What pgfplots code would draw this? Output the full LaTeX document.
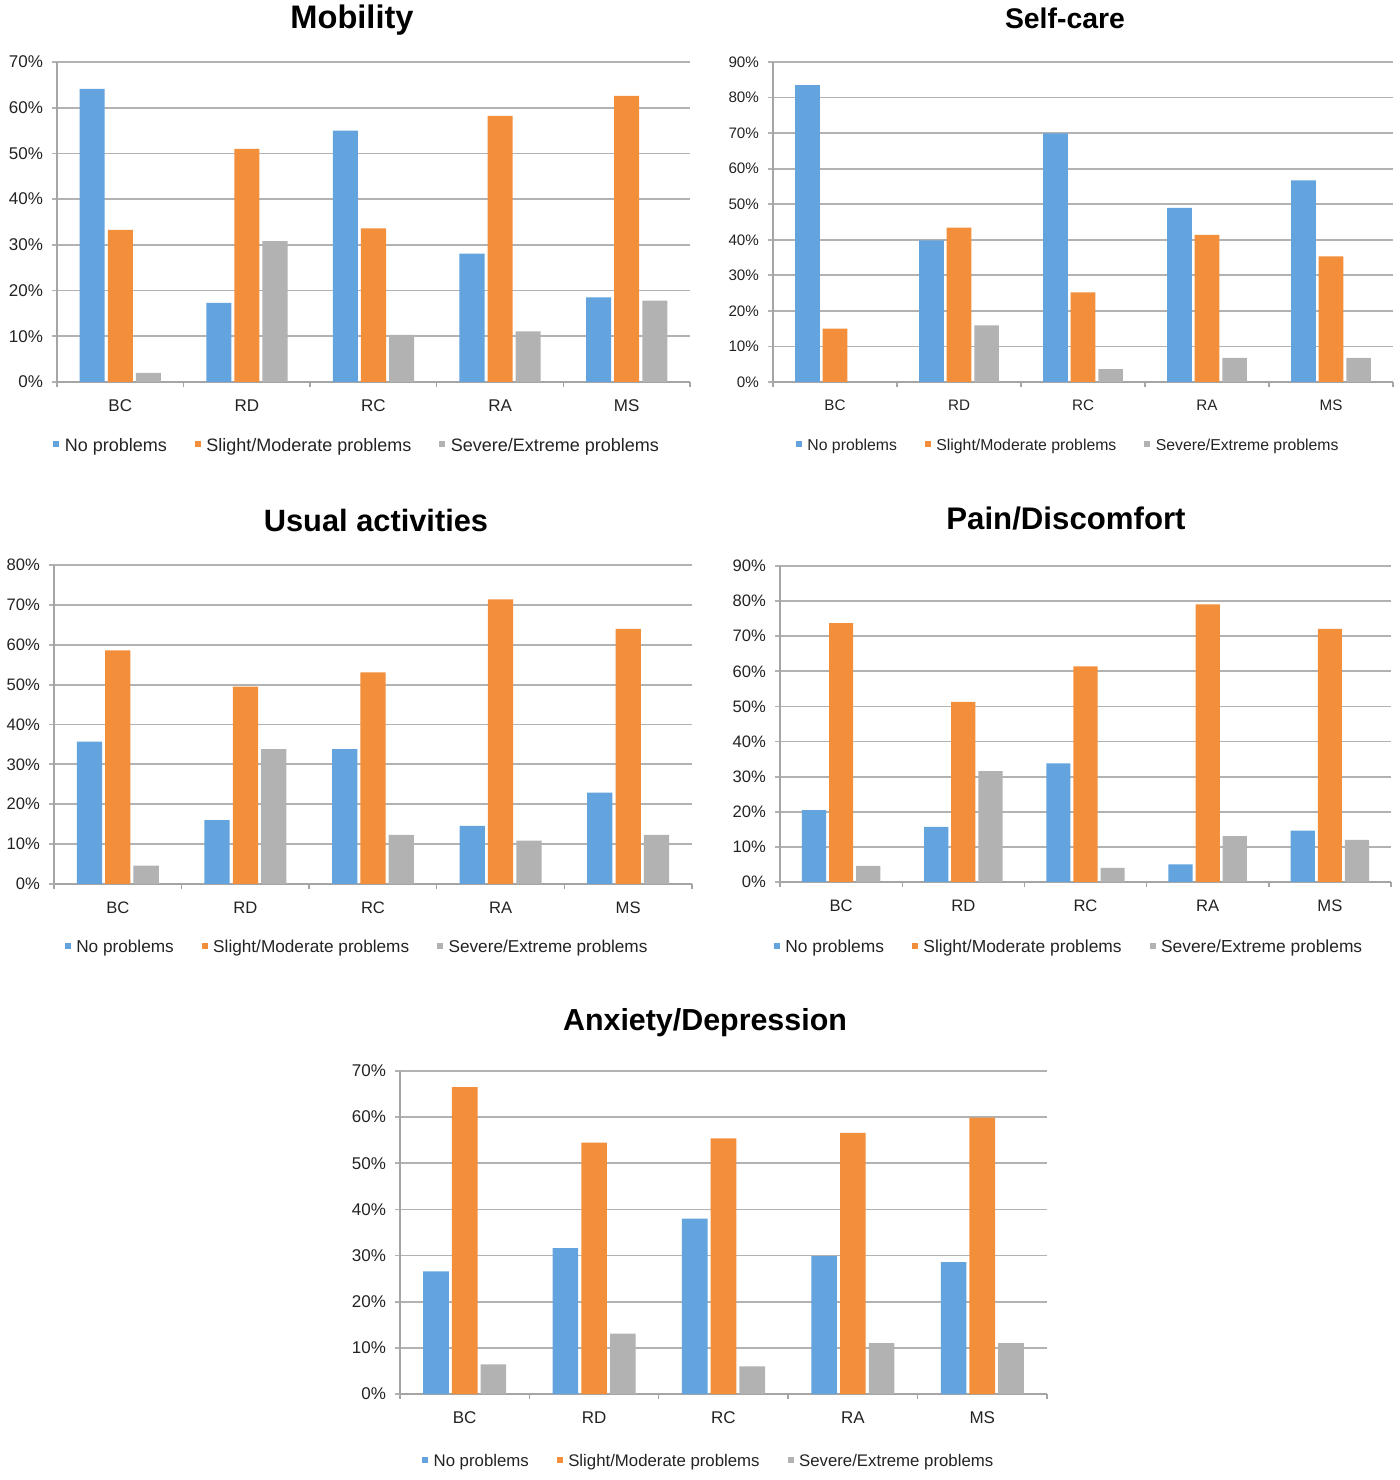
\documentclass[border=0pt]{standalone}
\usepackage{pgfplots}
\pgfplotsset{compat=1.18}
\usepackage{fontspec}
\setmainfont{Liberation Sans}
\definecolor{cblue}{RGB}{99,164,222}
\definecolor{corange}{RGB}{243,143,58}
\definecolor{cgray}{RGB}{178,178,178}
\definecolor{gridgray}{RGB}{178,178,178}
\definecolor{axgray}{RGB}{165,165,165}
\definecolor{txt}{RGB}{35,35,35}
\pgfplotsset{
  excel/.style={
    scale only axis, anchor=south west,
    ybar, bar width=0.198,
    xmin=-0.5, xmax=4.5, ymin=0,
    xtick={0,1,2,3,4}, xticklabels={BC,RD,RC,RA,MS},
    minor xtick={-0.5,0.5,1.5,2.5,3.5,4.5},
    major x tick style={draw=none},
    minor x tick style={draw=axgray, line width=0.7pt},
    minor tick length=2.5pt, major tick length=2.5pt,
    tick align=outside,
    axis lines*=left,
    axis line style={draw=axgray, line width=0.7pt},
    ytick distance=10,
    yticklabel={\pgfmathprintnumber{\tick}\%},
    ymajorgrids, grid style={draw=gridgray, line width=0.9pt},
    y tick style={draw=gridgray, line width=0.9pt},
    /pgf/number format/assume math mode=true,
    tick label style={text=txt},
    xticklabel style={yshift=-3pt},
    yticklabel style={xshift=-1pt},
    legend columns=3,
    legend style={draw=none, fill=none, anchor=center, text=txt,
      nodes={inner sep=1.5pt},
      /tikz/every odd column/.append style={column sep=1.2pt},
      /tikz/every even column/.append style={column sep=12.5pt}},
    legend image code/.code={\fill[##1] (0pt,-0.5pt) rectangle (3pt,2.5pt);},
  },
  sb/.style={fill=cblue, draw=none, bar shift=-0.222},
  so/.style={fill=corange, draw=none, bar shift=0},
  sg/.style={fill=cgray, draw=none, bar shift=0.222},
}
\begin{document}
\begin{tikzpicture}
\path[use as bounding box] (0,0) rectangle (700pt,740pt);

% Mobility
\begin{axis}[excel, at={(28.5pt,549pt)}, width=316.5pt, height=160pt, ymax=70,
  tick label style={font=\fontsize{8.5}{10}\selectfont},
  legend style={at={(0.475,-0.2)}, font=\fontsize{9}{10}\selectfont}]
\addplot[sb] coordinates {(0,64.1) (1,17.3) (2,55.0) (3,28.1) (4,18.5)};
\addplot[so] coordinates {(0,33.3) (1,51.0) (2,33.6) (3,58.2) (4,62.6)};
\addplot[sg] coordinates {(0,2.0) (1,30.8) (2,10.3) (3,11.1) (4,17.8)};
\legend{No problems, Slight/Moderate problems, Severe/Extreme problems}
\end{axis}
\node[font=\fontsize{16.3}{19}\selectfont\bfseries] at (176pt,730pt) {Mobility};

% Self-care
\begin{axis}[excel, at={(386.5pt,549pt)}, width=310pt, height=160pt, ymax=90,
  tick label style={font=\fontsize{7.6}{9}\selectfont},
  legend style={at={(0.477,-0.2)}, font=\fontsize{7.9}{9}\selectfont}]
\addplot[sb] coordinates {(0,83.5) (1,39.8) (2,69.9) (3,49.0) (4,56.7)};
\addplot[so] coordinates {(0,15.0) (1,43.4) (2,25.2) (3,41.4) (4,35.3)};
\addplot[sg] coordinates {(0,0) (1,15.9) (2,3.6) (3,6.8) (4,6.8)};
\legend{No problems, Slight/Moderate problems, Severe/Extreme problems}
\end{axis}
\node[font=\fontsize{14.2}{17}\selectfont\bfseries] at (532.5pt,731pt) {Self-care};

% Usual activities
\begin{axis}[excel, at={(27pt,298pt)}, width=319pt, height=159.5pt, ymax=80,
  tick label style={font=\fontsize{8.3}{10}\selectfont},
  legend style={at={(0.476,-0.2)}, font=\fontsize{8.6}{10}\selectfont}]
\addplot[sb] coordinates {(0,35.7) (1,16.0) (2,33.8) (3,14.6) (4,22.9)};
\addplot[so] coordinates {(0,58.6) (1,49.5) (2,53.1) (3,71.4) (4,64.0)};
\addplot[sg] coordinates {(0,4.6) (1,33.8) (2,12.3) (3,10.9) (4,12.3)};
\legend{No problems, Slight/Moderate problems, Severe/Extreme problems}
\end{axis}
\node[font=\fontsize{15.4}{18}\selectfont\bfseries] at (188pt,480pt) {Usual activities};

% Pain/Discomfort
\begin{axis}[excel, at={(390pt,299pt)}, width=305.5pt, height=158pt, ymax=90,
  tick label style={font=\fontsize{8.3}{10}\selectfont},
  legend style={at={(0.474,-0.209)}, font=\fontsize{8.7}{10}\selectfont}]
\addplot[sb] coordinates {(0,20.5) (1,15.7) (2,33.8) (3,5.0) (4,14.6)};
\addplot[so] coordinates {(0,73.7) (1,51.3) (2,61.4) (3,79.1) (4,72.1)};
\addplot[sg] coordinates {(0,4.6) (1,31.6) (2,4.0) (3,13.1) (4,12.0)};
\legend{No problems, Slight/Moderate problems, Severe/Extreme problems}
\end{axis}
\node[font=\fontsize{15.6}{18}\selectfont\bfseries] at (533pt,480.5pt) {Pain/Discomfort};

% Anxiety/Depression
\begin{axis}[excel, at={(200pt,43pt)}, width=323.5pt, height=161.5pt, ymax=70,
  tick label style={font=\fontsize{8.5}{10}\selectfont},
  legend style={at={(0.478,-0.21)}, font=\fontsize{8.4}{10}\selectfont}]
\addplot[sb] coordinates {(0,26.6) (1,31.6) (2,38.0) (3,29.9) (4,28.6)};
\addplot[so] coordinates {(0,66.5) (1,54.5) (2,55.4) (3,56.6) (4,59.9)};
\addplot[sg] coordinates {(0,6.4) (1,13.1) (2,6.0) (3,11.0) (4,11.0)};
\legend{No problems, Slight/Moderate problems, Severe/Extreme problems}
\end{axis}
\node[font=\fontsize{15.2}{18}\selectfont\bfseries] at (352.5pt,228.5pt) {Anxiety/Depression};
\end{tikzpicture}
\end{document}
